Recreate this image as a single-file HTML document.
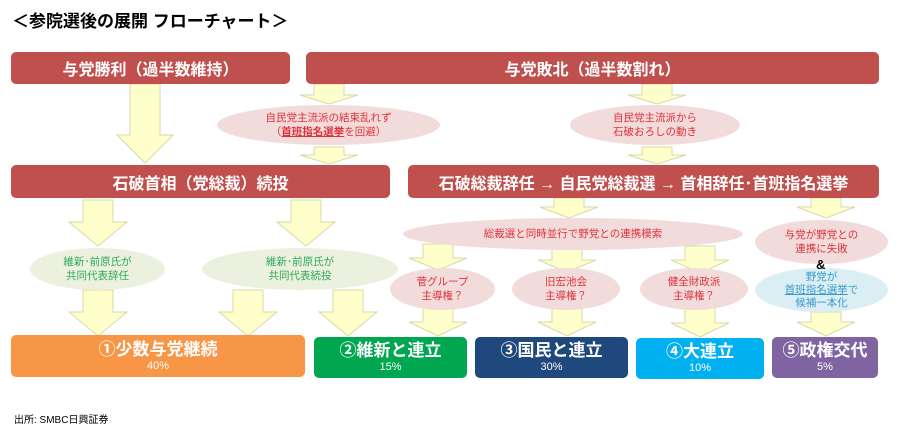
<!DOCTYPE html>
<html><head><meta charset="utf-8"><style>
body{margin:0;width:900px;height:431px;background:#fff;position:relative;overflow:hidden;font-family:"Liberation Sans","Noto Sans CJK JP",sans-serif}
.a{position:absolute}
.box{position:absolute;color:#fff;font-weight:bold;display:flex;flex-direction:column;align-items:center;justify-content:center;border-radius:5px;text-align:center}
.red{background:#C0504D;font-size:16px}
.el{position:absolute;border-radius:50%;display:flex;align-items:center;justify-content:center;text-align:center;font-size:10.5px;line-height:14px}
.el>div{white-space:nowrap}
.pk{background:#F2DCDB;color:#E0303A}
.gr{background:#EBF1DE;color:#2FA85A}
.bl{background:#DAEEF3;color:#3A9AC8}
.big{font-size:17px;line-height:20px}
.pct{font-size:11px;font-weight:normal;line-height:13px}
</style></head><body>
<div class="a" style="left:12px;top:7px;font-size:17px;font-weight:bold;">＜参院選後の展開 フローチャート＞</div>
<svg class="a" style="left:0;top:0" width="900" height="431">
<g fill="#FFFFCC" stroke="#D8D8A8" stroke-width="1">
<polygon points="130,84 160,84 160,135 173,135 145,163 117,135 130,135"/>
<polygon points="314,84 344,84 344,95 358,95 329,104 300,95 314,95"/>
<polygon points="314,147 344,147 344,155 358,155 329,164 300,155 314,155"/>
<polygon points="642,84 672,84 672,95 686,95 657,104 628,95 642,95"/>
<polygon points="642,147 672,147 672,155 686,155 657,164 628,155 642,155"/>
<polygon points="83,200 113,200 113,222 127,222 98,246 69,222 83,222"/>
<polygon points="291,200 321,200 321,222 335,222 306,246 277,222 291,222"/>
<polygon points="83,290 113,290 113,312 127,312 98,336 69,312 83,312"/>
<polygon points="233,290 263,290 263,312 277,312 248,336 219,312 233,312"/>
<polygon points="333,290 363,290 363,312 377,312 348,336 319,312 333,312"/>
<polygon points="554,198 584,198 584,207 598,207 569,218 540,207 554,207"/>
<polygon points="811,198 841,198 841,207 855,207 826,218 797,207 811,207"/>
<polygon points="423,244 453,244 453,258 467,258 438,270 409,258 423,258"/>
<polygon points="552,248 582,248 582,260 596,260 567,272 538,260 552,260"/>
<polygon points="685,246 715,246 715,260 729,260 700,273 671,260 685,260"/>
<polygon points="423,307 453,307 453,322 467,322 438,336 409,322 423,322"/>
<polygon points="552,306 582,306 582,322 596,322 567,336 538,322 552,322"/>
<polygon points="685,308 715,308 715,323 729,323 700,337 671,323 685,323"/>
<polygon points="811,312 841,312 841,322 855,322 826,336 797,322 811,322"/>
</g></svg>
<div class="box red" style="left:11px;top:52px;width:279px;height:32px">与党勝利（過半数維持）</div>
<div class="box red" style="left:306px;top:52px;width:573px;height:32px">与党敗北（過半数割れ）</div>
<div class="el pk" style="left:217px;top:105px;width:223px;height:40px"><div>自民党主流派の結束乱れず<br>（<u style="font-weight:bold">首班指名選挙</u>を回避）</div></div>
<div class="el pk" style="left:570px;top:105px;width:170px;height:40px"><div>自民党主流派から<br>石破おろしの動き</div></div>
<div class="box red" style="left:11px;top:165px;width:379px;height:33px">石破首相（党総裁）続投</div>
<div class="box red" style="left:408px;top:165px;width:471px;height:33px">石破総裁辞任 → 自民党総裁選 → 首相辞任･首班指名選挙</div>
<div class="el gr" style="left:30px;top:248px;width:135px;height:42px"><div>維新･前原氏が<br>共同代表辞任</div></div>
<div class="el gr" style="left:202px;top:248px;width:196px;height:42px"><div>維新･前原氏が<br>共同代表続投</div></div>
<div class="el pk" style="left:403px;top:218px;width:340px;height:32px"><div>総裁選と同時並行で野党との連携模索</div></div>
<div class="el pk" style="left:390px;top:268px;width:105px;height:42px"><div>菅グループ<br>主導権？</div></div>
<div class="el pk" style="left:512px;top:268px;width:108px;height:42px"><div>旧宏池会<br>主導権？</div></div>
<div class="el pk" style="left:640px;top:268px;width:108px;height:42px"><div>健全財政派<br>主導権？</div></div>
<div class="el pk" style="left:755px;top:220px;width:133px;height:44px"><div>与党が野党との<br>連携に失敗</div></div>
<div class="el bl" style="left:755px;top:268px;width:133px;height:44px"><div style="line-height:13px">野党が<br><u>首班指名選挙</u>で<br>候補一本化</div></div>
<div class="a" style="left:816px;top:257px;font-size:13px;font-weight:bold">&amp;</div>
<div class="box" style="left:11px;top:335px;width:294px;height:42px;background:#F79646"><span class="big">①少数与党継続</span><span class="pct">40%</span></div>
<div class="box" style="left:314px;top:337px;width:153px;height:41px;background:#00A650"><span class="big">②維新と連立</span><span class="pct">15%</span></div>
<div class="box" style="left:475px;top:337px;width:153px;height:41px;background:#1F497D"><span class="big">③国民と連立</span><span class="pct">30%</span></div>
<div class="box" style="left:636px;top:338px;width:128px;height:41px;background:#00B0F0"><span class="big">④大連立</span><span class="pct">10%</span></div>
<div class="box" style="left:772px;top:337px;width:106px;height:41px;background:#8064A2"><span class="big">⑤政権交代</span><span class="pct">5%</span></div>
<div class="a" style="left:14px;top:411px;font-size:10px">出所: SMBC日興証券</div>
</body></html>
